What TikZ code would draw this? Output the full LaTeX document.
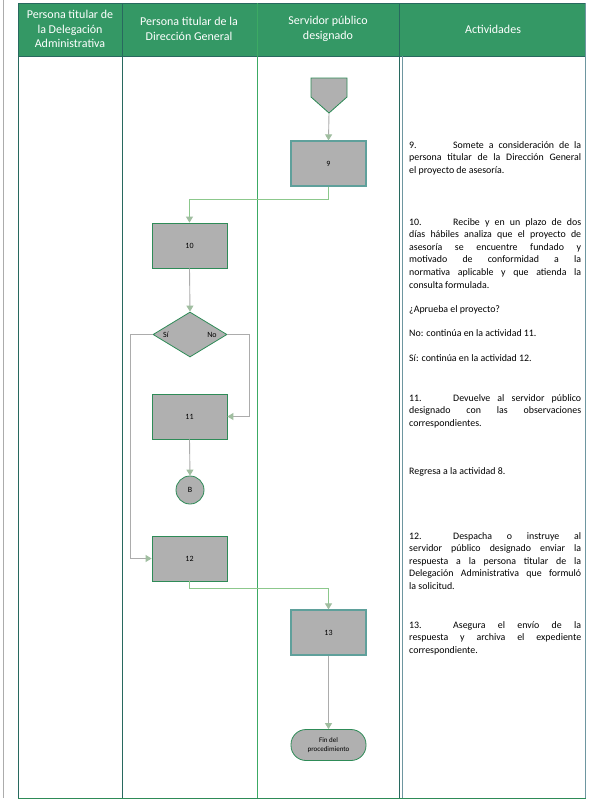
\documentclass[tikz,border=0pt]{standalone}
\usepackage{fontspec}
\setmainfont{Carlito}
\usetikzlibrary{arrows.meta,shapes.geometric}
\definecolor{hdr}{RGB}{52,152,101}
\definecolor{tealline}{RGB}{40,105,95}
\definecolor{greenline}{RGB}{60,170,100}
\definecolor{boxfill}{RGB}{176,176,176}
\definecolor{boxborder}{RGB}{46,139,87}
\definecolor{tealborder}{RGB}{95,160,155}
\definecolor{conngray}{RGB}{172,172,172}
\definecolor{conngreen}{RGB}{140,200,140}
\definecolor{tipcol}{RGB}{160,190,160}
\definecolor{actline}{RGB}{110,150,160}
\newcommand\nohyph{\hyphenpenalty=10000\relax\exhyphenpenalty=10000\relax}
\tikzset{
  procbox/.style={rectangle,draw=boxborder,fill=boxfill,line width=0.8pt,minimum width=75pt,minimum height=45pt,inner sep=0pt,font=\fontsize{8}{9}\selectfont},
  procboxt/.style={procbox,draw=tealborder,line width=1.2pt},
  decis/.style={diamond,draw=boxborder,fill=boxfill,line width=0.8pt,minimum width=74pt,minimum height=45pt,inner sep=0pt},
  connec/.style={circle,draw=boxborder,fill=boxfill,line width=0.8pt,minimum size=28pt,inner sep=0pt,font=\fontsize{8}{9}\selectfont},
  termin/.style={rectangle,rounded corners=15pt,draw=boxborder,fill=boxfill,line width=0.8pt,minimum width=75pt,minimum height=31pt,inner sep=0pt,align=center,font=\fontsize{7}{8.5}\selectfont},
  flow/.style={draw=conngray,line width=0.9pt,-{Triangle[width=7pt,length=6pt,fill=tipcol,color=tipcol]}},
  flowg/.style={flow,draw=conngreen},
  hdrtext/.style={text=white,align=center,font=\fontsize{12}{14.5}\selectfont},
  acttext/.style={anchor=base west,text width=172pt,align=justify,inner sep=0pt,font=\fontsize{9.9}{12.6}\selectfont},
  lbl/.style={font=\fontsize{8}{9}\selectfont,inner sep=0pt}
}
\begin{document}
\begin{tikzpicture}[x=1pt,y=-1pt]
\useasboundingbox[fill=white] (0,0) rectangle (590,804);
% left gray line
\draw[conngray,line width=1pt] (3,0) -- (3,798);
% header band
\fill[hdr] (18,3) rectangle (586,56);
\draw[tealline,line width=1pt] (18,3) -- (586,3);
\draw[tealline,line width=1pt] (18,56) -- (586,56);
% column lines
\draw[tealline,line width=1pt] (18,3) -- (18,798);
\draw[tealline,line width=1pt] (122,3) -- (122,798);
\draw[greenline,line width=1pt] (257,3) -- (257,798);
\draw[tealline,line width=1pt] (399,3) -- (399,798);
\draw[actline,line width=0.8pt] (402,56) -- (402,798);
\draw[actline,line width=1pt] (585,3) -- (585,798);
\draw[boxborder,line width=1pt] (18,798) -- (586,798);
% header texts
\node[hdrtext] (h1) at (70,29) {Persona titular de\\la Delegación\\Administrativa};
\node[hdrtext] (h2) at (189,29) {Persona titular de la\\Dirección General};
\node[hdrtext] (h3) at (328,29) {Servidor público\\designado};
\node[hdrtext] (h4) at (493,29) {Actividades};
% off-page connector
\draw[boxborder,fill=boxfill,line width=0.8pt] (311,78) -- (347,78) -- (347,97) -- (329,113) -- (311,97) -- cycle;
\coordinate (offtip) at (329,113);
% process nodes
\node[procboxt] (b9) at (328.5,163.5) {9};
\node[procbox] (b10) at (189.5,245.5) {10};
\node[decis] (d1) at (190,334.5) {};
\node[lbl] (si) at (166,335) {Sí};
\node[lbl] (no) at (212,335) {No};
\node[procbox] (b11) at (189.5,416.5) {11};
\node[connec] (cb) at (190,490) {B};
\node[procbox] (b12) at (189.5,558.5) {12};
\node[procboxt] (b13) at (328.5,632.5) {13};
\node[termin] (fin) at (328.5,745) {Fin del\\procedimiento};
% connectors
\draw[flow] (offtip) -- (b9.north);
\draw[flowg] (b9.south) -- ++(0,13) -| (b10.north);
\draw[flow] (b10.south) -- (d1.north);
\draw[flow] (d1.west) -- (130,334.5) |- (b12.west);
\draw[flow] (d1.east) -- (249,334.5) |- (b11.east);
\draw[flow] (b11.south) -- (cb.north);
\draw[flowg] (b12.south) -- ++(0,7) -| (b13.north);
\draw[flow] (b13.south) -- (fin.north);
% activity texts
\node[acttext] (t9) at (409,148) {\nohyph\makebox[44pt][l]{9.}Somete a consideración de la\linebreak persona titular de la Dirección General\linebreak el proyecto de asesoría.};
\node[acttext] (t10) at (409,225) {\nohyph\makebox[44pt][l]{10.}Recibe y en un plazo de dos\linebreak días hábiles analiza que el proyecto de\linebreak asesoría se encuentre fundado y\linebreak motivado de conformidad a la\linebreak normativa aplicable y que atienda la\linebreak consulta formulada.};
\node[acttext] (tq) at (409,312) {¿Aprueba el proyecto?};
\node[acttext] (tno) at (409,336) {No: continúa en la actividad 11.};
\node[acttext] (tsi) at (409,361) {Sí: continúa en la actividad 12.};
\node[acttext] (t11) at (409,401) {\nohyph\makebox[44pt][l]{11.}Devuelve al servidor público\linebreak designado con las observaciones\linebreak correspondientes.};
\node[acttext] (treg) at (409,474) {Regresa a la actividad 8.};
\node[acttext] (t12) at (409,539) {\nohyph\makebox[44pt][l]{12.}Despacha o instruye al\linebreak servidor público designado enviar la\linebreak respuesta a la persona titular de la\linebreak Delegación Administrativa que formuló\linebreak la solicitud.};
\node[acttext] (t13) at (409,628) {\nohyph\makebox[44pt][l]{13.}Asegura el envío de la\linebreak respuesta y archiva el expediente\linebreak correspondiente.};
\end{tikzpicture}
\end{document}
